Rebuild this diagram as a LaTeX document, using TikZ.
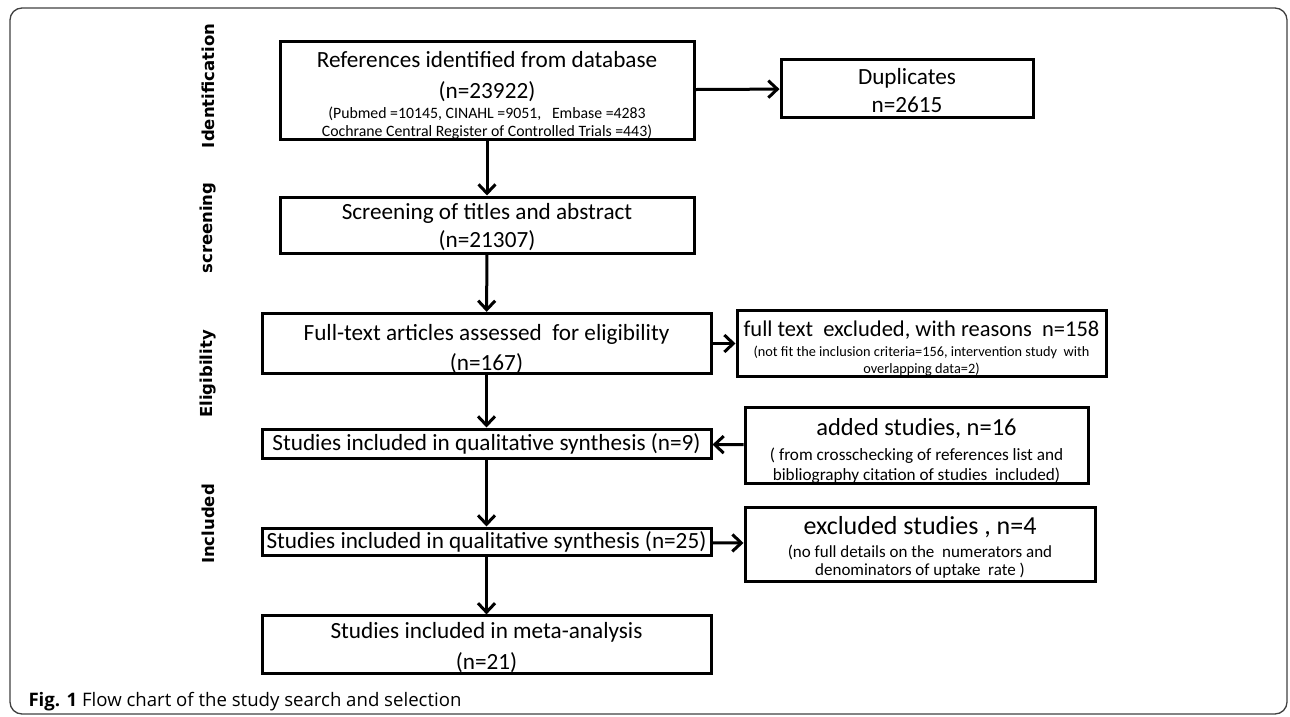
\documentclass[tikz,border=0pt]{standalone}
\usepackage{fontspec}
\setmainfont{Carlito}
\newfontfamily\sidefont{DejaVu Sans}
\newfontfamily\capfont{Open Sans}
\usetikzlibrary{arrows.meta}

\newcommand{\sizedline}[2]{{\fontsize{#1}{20}\selectfont #2}}

\begin{document}
\begin{tikzpicture}[x=1pt, y=-1pt,
    box/.style={draw, line width=3pt, align=center, inner sep=0pt,
        font=\fontsize{23.2}{28}\selectfont},
    stage/.style={rotate=90, font=\sidefont\bfseries\fontsize{16.5}{18}\selectfont},
    flow/.style={line width=3pt, -{Straight Barb[length=9pt, width=17pt]}}]
    \useasboundingbox (0,0) rectangle (1290,717);
    \draw[line width=1.3pt, color=black!75, rounded corners=12pt] (10,8) rectangle (1287,714);

    % main column
    \node[box, minimum width=414pt, minimum height=95pt] (refs) at (487,90.5)
        {\rule{0pt}{26pt}References identified from database\\[3pt](n=23922)\\[-8pt]
         \sizedline{15.8}{(Pubmed =10145, CINAHL =9051,\ \ \ Embase =4283}\\[-10pt]
         \sizedline{15.8}{Cochrane Central Register of Controlled Trials =443)}};
    \node[box, minimum width=414pt, minimum height=56pt] (screen) at (487,225)
        {\rule{0pt}{21pt}Screening of titles and abstract\\(n=21307)};
    \node[box, minimum width=449pt, minimum height=57pt] (full) at (486.5,343.5)
        {\rule{0pt}{27pt}Full-text articles assessed\ \ for eligibility\\[2pt](n=167)};
    \node[box, minimum width=449pt, minimum height=29pt] (qual9) at (486.5,443.5)
        {Studies included in qualitative synthesis (n=9)};
    \node[box, minimum width=449pt, minimum height=27pt] (qual25) at (486.5,541.5)
        {Studies included in qualitative synthesis (n=25)};
    \node[box, minimum width=449pt, minimum height=57pt] (meta) at (486.5,644.5)
        {\rule{0pt}{23pt}Studies included in meta-analysis\\[3pt](n=21)};

    % side boxes
    \node[box, minimum width=252pt, minimum height=57pt] (dup) at (907,88.5)
        {\rule{0pt}{21pt}Duplicates\\n=2615};
    \node[box, minimum width=369pt, minimum height=65pt] (ftex) at (921.5,343.5)
        {\rule{0pt}{26pt}\sizedline{22.5}{full text\ \ excluded, with reasons\ \ n=158}\\[-8pt]
         \sizedline{14.3}{(not fit the inclusion criteria=156, intervention study\ \ with}\\[-11pt]
         \sizedline{14.3}{overlapping data=2)}};
    \node[box, minimum width=343pt, minimum height=75pt] (added) at (916.5,445.5)
        {\rule{0pt}{28pt}\sizedline{24.5}{added studies, n=16}\\[-3pt]
         \sizedline{17.2}{( from crosschecking of references list and}\\[-8pt]
         \sizedline{17.2}{bibliography citation of studies\ \ included)}};
    \node[box, minimum width=350pt, minimum height=74pt] (exc4) at (920,544)
        {\rule{0pt}{25pt}\sizedline{26}{excluded studies , n=4}\\[-5pt]
         \sizedline{17}{(no full details on the\ \ numerators and}\\[-10pt]
         \sizedline{17}{denominators of uptake\ \ rate )}};

    % stage labels
    \node[stage] (ident) at (208,86) {Identification};
    \node[stage] (scr) at (208,228) {screening};
    \node[stage] (elig) at (208,374) {Eligibility};
    \node[stage] (incl) at (208,524) {Included};

    \draw[flow] (refs) -- (screen);
    \draw[flow] (screen) -- (full);
    \draw[flow] (full) -- (qual9);
    \draw[flow] (qual9) -- (qual25);
    \draw[flow] (qual25) -- (meta);
    \draw[flow] (refs) -- (dup);
    \draw[flow] (full) -- (ftex);
    \draw[flow] (added) -- (qual9);
    \draw[flow] (qual25) -- (exc4);

    \node[anchor=base west, font=\capfont\fontsize{18.6}{20}\selectfont] (caption) at (25,706)
        {\textbf{Fig. 1} Flow chart of the study search and selection};
\end{tikzpicture}
\end{document}
